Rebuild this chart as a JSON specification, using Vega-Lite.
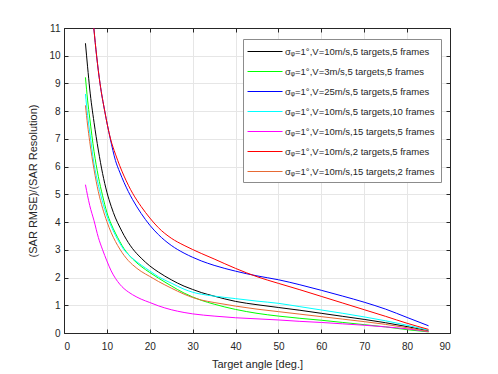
{
  "$schema": "https://vega.github.io/schema/vega-lite/v6.json",
  "width": 386,
  "height": 305,
  "autosize": {"type": "none"},
  "padding": {"left": 64, "top": 28, "right": 48, "bottom": 41},
  "background": "white",
  "config": {
    "font": "Liberation Sans",
    "view": {"stroke": null},
    "axis": {
      "labelFont": "Liberation Sans",
      "labelFontSize": 10,
      "labelColor": "#262626",
      "titleFont": "Liberation Sans",
      "titleFontSize": 11,
      "titleFontWeight": "normal",
      "titleColor": "#262626",
      "domainColor": "#262626",
      "tickColor": "#262626",
      "gridColor": "#e6e6e6",
      "tickSize": -4
    }
  },
  "data": {"values": [
    {"s":"k","x":5,"y":10.45},{"s":"k","x":5.5,"y":9.6},{"s":"k","x":6,"y":8.8},{"s":"k","x":7,"y":7.6},{"s":"k","x":8,"y":6.6},{"s":"k","x":9,"y":5.75},{"s":"k","x":10,"y":5.08},{"s":"k","x":11,"y":4.57},{"s":"k","x":12,"y":4.15},{"s":"k","x":13,"y":3.82},{"s":"k","x":14,"y":3.52},{"s":"k","x":15,"y":3.26},{"s":"k","x":16,"y":3.04},{"s":"k","x":18,"y":2.7},{"s":"k","x":20,"y":2.42},{"s":"k","x":22,"y":2.2},{"s":"k","x":25,"y":1.92},{"s":"k","x":28,"y":1.69},{"s":"k","x":30,"y":1.57},{"s":"k","x":32,"y":1.46},{"s":"k","x":35,"y":1.33},{"s":"k","x":40,"y":1.14},{"s":"k","x":45,"y":1.02},{"s":"k","x":50,"y":0.92},{"s":"k","x":55,"y":0.82},{"s":"k","x":60,"y":0.71},{"s":"k","x":65,"y":0.6},{"s":"k","x":70,"y":0.49},{"s":"k","x":75,"y":0.37},{"s":"k","x":80,"y":0.23},{"s":"k","x":85,"y":0.08},
    {"s":"g","x":5,"y":9.22},{"s":"g","x":5.5,"y":8.4},{"s":"g","x":6,"y":7.75},{"s":"g","x":7,"y":6.55},{"s":"g","x":8,"y":5.65},{"s":"g","x":9,"y":4.95},{"s":"g","x":10,"y":4.35},{"s":"g","x":11,"y":3.93},{"s":"g","x":12,"y":3.6},{"s":"g","x":13,"y":3.3},{"s":"g","x":14,"y":3.04},{"s":"g","x":15,"y":2.84},{"s":"g","x":16,"y":2.67},{"s":"g","x":18,"y":2.4},{"s":"g","x":20,"y":2.18},{"s":"g","x":22,"y":1.98},{"s":"g","x":25,"y":1.7},{"s":"g","x":28,"y":1.44},{"s":"g","x":30,"y":1.3},{"s":"g","x":32,"y":1.18},{"s":"g","x":35,"y":1.04},{"s":"g","x":40,"y":0.85},{"s":"g","x":45,"y":0.71},{"s":"g","x":50,"y":0.61},{"s":"g","x":55,"y":0.53},{"s":"g","x":60,"y":0.46},{"s":"g","x":65,"y":0.38},{"s":"g","x":70,"y":0.3},{"s":"g","x":75,"y":0.22},{"s":"g","x":80,"y":0.12},{"s":"g","x":85,"y":0.04},
    {"s":"b","x":6.95,"y":11},{"s":"b","x":7.6,"y":10},{"s":"b","x":8.4,"y":9},{"s":"b","x":9.5,"y":8},{"s":"b","x":10.8,"y":7},{"s":"b","x":12,"y":6.22},{"s":"b","x":13,"y":5.8},{"s":"b","x":14,"y":5.43},{"s":"b","x":15,"y":5.1},{"s":"b","x":16,"y":4.81},{"s":"b","x":18,"y":4.31},{"s":"b","x":20,"y":3.89},{"s":"b","x":22,"y":3.55},{"s":"b","x":25,"y":3.16},{"s":"b","x":28,"y":2.88},{"s":"b","x":30,"y":2.73},{"s":"b","x":32,"y":2.6},{"s":"b","x":35,"y":2.44},{"s":"b","x":40,"y":2.23},{"s":"b","x":45,"y":2.06},{"s":"b","x":50,"y":1.92},{"s":"b","x":55,"y":1.74},{"s":"b","x":60,"y":1.54},{"s":"b","x":65,"y":1.33},{"s":"b","x":70,"y":1.11},{"s":"b","x":75,"y":0.86},{"s":"b","x":80,"y":0.56},{"s":"b","x":85,"y":0.26},
    {"s":"c","x":5,"y":8.62},{"s":"c","x":5.5,"y":7.85},{"s":"c","x":6,"y":7.25},{"s":"c","x":7,"y":6.1},{"s":"c","x":8,"y":5.35},{"s":"c","x":9,"y":4.72},{"s":"c","x":10,"y":4.22},{"s":"c","x":11,"y":3.85},{"s":"c","x":12,"y":3.52},{"s":"c","x":13,"y":3.24},{"s":"c","x":14,"y":3.0},{"s":"c","x":15,"y":2.83},{"s":"c","x":16,"y":2.69},{"s":"c","x":18,"y":2.45},{"s":"c","x":20,"y":2.24},{"s":"c","x":22,"y":2.03},{"s":"c","x":25,"y":1.8},{"s":"c","x":28,"y":1.58},{"s":"c","x":30,"y":1.47},{"s":"c","x":32,"y":1.4},{"s":"c","x":35,"y":1.33},{"s":"c","x":40,"y":1.24},{"s":"c","x":45,"y":1.15},{"s":"c","x":50,"y":1.07},{"s":"c","x":55,"y":0.95},{"s":"c","x":60,"y":0.83},{"s":"c","x":65,"y":0.71},{"s":"c","x":70,"y":0.58},{"s":"c","x":75,"y":0.44},{"s":"c","x":80,"y":0.28},{"s":"c","x":85,"y":0.1},
    {"s":"m","x":5,"y":5.35},{"s":"m","x":5.5,"y":4.95},{"s":"m","x":6,"y":4.6},{"s":"m","x":7,"y":4.05},{"s":"m","x":8,"y":3.45},{"s":"m","x":9,"y":3.0},{"s":"m","x":10,"y":2.6},{"s":"m","x":11,"y":2.24},{"s":"m","x":12,"y":1.97},{"s":"m","x":13,"y":1.76},{"s":"m","x":14,"y":1.6},{"s":"m","x":15,"y":1.48},{"s":"m","x":16,"y":1.38},{"s":"m","x":18,"y":1.22},{"s":"m","x":20,"y":1.1},{"s":"m","x":22,"y":0.98},{"s":"m","x":25,"y":0.84},{"s":"m","x":28,"y":0.74},{"s":"m","x":30,"y":0.69},{"s":"m","x":35,"y":0.61},{"s":"m","x":40,"y":0.55},{"s":"m","x":45,"y":0.51},{"s":"m","x":50,"y":0.47},{"s":"m","x":55,"y":0.42},{"s":"m","x":60,"y":0.38},{"s":"m","x":65,"y":0.33},{"s":"m","x":70,"y":0.28},{"s":"m","x":75,"y":0.22},{"s":"m","x":80,"y":0.15},{"s":"m","x":85,"y":0.05},
    {"s":"r","x":6.95,"y":11},{"s":"r","x":7.6,"y":10},{"s":"r","x":8.4,"y":9},{"s":"r","x":9.5,"y":8},{"s":"r","x":10.85,"y":7},{"s":"r","x":12,"y":6.45},{"s":"r","x":13,"y":6.03},{"s":"r","x":14,"y":5.66},{"s":"r","x":15,"y":5.33},{"s":"r","x":16,"y":5.04},{"s":"r","x":18,"y":4.56},{"s":"r","x":20,"y":4.15},{"s":"r","x":22,"y":3.8},{"s":"r","x":25,"y":3.42},{"s":"r","x":28,"y":3.16},{"s":"r","x":30,"y":3.01},{"s":"r","x":32,"y":2.87},{"s":"r","x":35,"y":2.67},{"s":"r","x":40,"y":2.33},{"s":"r","x":45,"y":2.03},{"s":"r","x":50,"y":1.79},{"s":"r","x":55,"y":1.56},{"s":"r","x":60,"y":1.32},{"s":"r","x":65,"y":1.08},{"s":"r","x":70,"y":0.84},{"s":"r","x":75,"y":0.6},{"s":"r","x":80,"y":0.35},{"s":"r","x":85,"y":0.13},
    {"s":"o","x":5,"y":8.21},{"s":"o","x":5.5,"y":7.5},{"s":"o","x":6,"y":6.9},{"s":"o","x":7,"y":5.9},{"s":"o","x":8,"y":5.1},{"s":"o","x":9,"y":4.5},{"s":"o","x":10,"y":4.02},{"s":"o","x":11,"y":3.62},{"s":"o","x":12,"y":3.3},{"s":"o","x":13,"y":3.03},{"s":"o","x":14,"y":2.8},{"s":"o","x":15,"y":2.61},{"s":"o","x":16,"y":2.46},{"s":"o","x":18,"y":2.22},{"s":"o","x":20,"y":2.04},{"s":"o","x":22,"y":1.86},{"s":"o","x":25,"y":1.62},{"s":"o","x":28,"y":1.4},{"s":"o","x":30,"y":1.28},{"s":"o","x":32,"y":1.19},{"s":"o","x":35,"y":1.1},{"s":"o","x":40,"y":0.97},{"s":"o","x":45,"y":0.86},{"s":"o","x":50,"y":0.77},{"s":"o","x":55,"y":0.68},{"s":"o","x":60,"y":0.59},{"s":"o","x":65,"y":0.5},{"s":"o","x":70,"y":0.41},{"s":"o","x":75,"y":0.31},{"s":"o","x":80,"y":0.19},{"s":"o","x":85,"y":0.06}
  ]},
  "layer": [
    {
      "mark": {"type": "line", "strokeWidth": 1, "clip": true, "interpolate": "monotone"},
      "encoding": {
        "x": {"field": "x", "type": "quantitative",
              "scale": {"domain": [0, 90], "nice": false},
              "axis": {"values": [0,10,20,30,40,50,60,70,80,90], "title": "Target angle [deg.]", "labelPadding": 12, "titlePadding": 7, "grid": true}},
        "y": {"field": "y", "type": "quantitative",
              "scale": {"domain": [0, 11], "nice": false},
              "axis": {"values": [0,1,2,3,4,5,6,7,8,9,10,11], "title": "(SAR RMSE)/(SAR Resolution)", "labelPadding": 8, "titlePadding": 10, "grid": true}},
        "color": {"field": "s", "type": "nominal",
                  "scale": {"domain": ["k","g","b","c","m","r","o"],
                            "range": ["#000000","#00ff00","#0000ff","#00ffff","#ff00ff","#ff0000","#e66a35"]},
                  "legend": {
                    "title": null,
                    "orient": "none",
                    "legendX": 179,
                    "legendY": 11,
                    "symbolType": "M-1.33,0H4.5",
                    "symbolSize": 144,
                    "symbolStrokeWidth": 1,
                    "labelFont": "Liberation Sans",
                    "labelFontSize": 9.5,
                    "labelColor": "#262626",
                    "labelOffset": 23,
                    "rowPadding": 9,
                    "padding": 6,
                    "strokeColor": "#8c8c8c",
                    "fillColor": "white",
                    "labelExpr": "{'k':'σᵩ=1°,V=10m/s,5 targets,5 frames','g':'σᵩ=1°,V=3m/s,5 targets,5 frames','b':'σᵩ=1°,V=25m/s,5 targets,5 frames','c':'σᵩ=1°,V=10m/s,5 targets,10 frames','m':'σᵩ=1°,V=10m/s,15 targets,5 frames','r':'σᵩ=1°,V=10m/s,2 targets,5 frames','o':'σᵩ=1°,V=10m/s,15 targets,2 frames'}[datum.value]"
                  }},
        "order": {"field": "x", "type": "quantitative"}
      }
    },
    {
      "mark": {"type": "line", "strokeOpacity": 0},
      "encoding": {
        "x": {"field": "x", "type": "quantitative",
              "axis": {"orient": "top", "values": [0,10,20,30,40,50,60,70,80,90], "labels": false, "title": null, "grid": false}},
        "y": {"field": "y", "type": "quantitative",
              "axis": {"orient": "right", "values": [0,1,2,3,4,5,6,7,8,9,10,11], "labels": false, "title": null, "grid": false}},
        "detail": {"field": "s"}
      }
    }
  ],
  "resolve": {"axis": {"x": "independent", "y": "independent"}}
}
